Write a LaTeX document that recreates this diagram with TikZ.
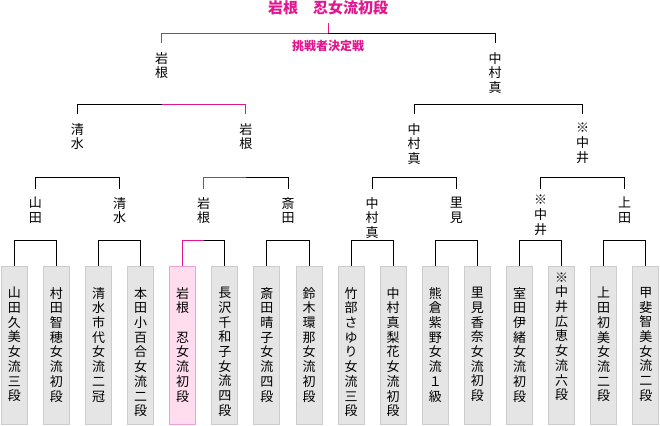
\documentclass[tikz,border=0pt]{standalone}
\usepackage{fontspec}
\newfontfamily\jp{Noto Sans CJK JP}
\definecolor{win}{HTML}{E2168F}
\definecolor{boxfill}{HTML}{E5E5E5}
\definecolor{boxline}{HTML}{CCCCCC}
\definecolor{pinkfill}{HTML}{FFDDEE}
\definecolor{pinkline}{HTML}{F0A0D0}
\begin{document}
\begin{tikzpicture}[x=1pt,y=-1pt,
  conn/.style={draw=black,line width=1pt},
  winconn/.style={draw=win,line width=1pt},
  pbox/.style={draw=boxline,fill=boxfill,line width=1pt,minimum width=26pt,minimum height=158pt,anchor=north,inner sep=0pt},
  wbox/.style={pbox,draw=pinkline,fill=pinkfill},
  vtext/.style={anchor=north,inner sep=0pt,align=center,font=\jp\fontsize{13}{14.7}\selectfont},
  ttl/.style={inner sep=0pt,text=win,font=\jp\bfseries\fontsize{15}{16}\selectfont},
  sttl/.style={inner sep=0pt,text=win,font=\jp\bfseries\fontsize{12}{13}\selectfont}]
\useasboundingbox (0,0) rectangle (660,425);
% title
\node[ttl] (title) at (328,8) {岩根　忍女流初段};
\node[sttl] (sub) at (328,46) {挑戦者決定戦};
% boxes
\node[pbox] (b0) at (14.3,265.5) {};
\node[pbox] (b1) at (56.4,265.5) {};
\node[pbox] (b2) at (98.5,265.5) {};
\node[pbox] (b3) at (140.6,265.5) {};
\node[wbox] (b4) at (182.7,265.5) {};
\node[pbox] (b5) at (224.8,265.5) {};
\node[pbox] (b6) at (266.9,265.5) {};
\node[pbox] (b7) at (309.0,265.5) {};
\node[pbox] (b8) at (351.1,265.5) {};
\node[pbox] (b9) at (393.2,265.5) {};
\node[pbox] (b10) at (435.3,265.5) {};
\node[pbox] (b11) at (477.4,265.5) {};
\node[pbox] (b12) at (519.5,265.5) {};
\node[pbox] (b13) at (561.6,265.5) {};
\node[pbox] (b14) at (603.7,265.5) {};
\node[pbox] (b15) at (645.8,265.5) {};
% box texts
\node[vtext] (t0) at (14.3,287) {山\\田\\久\\美\\女\\流\\三\\段};
\node[vtext] (t1) at (56.4,287) {村\\田\\智\\穂\\女\\流\\初\\段};
\node[vtext] (t2) at (98.5,287) {清\\水\\市\\代\\女\\流\\二\\冠};
\node[vtext] (t3) at (140.6,287) {本\\田\\小\\百\\合\\女\\流\\二\\段};
\node[vtext] (t4) at (182.7,287) {岩\\根\\　\\忍\\女\\流\\初\\段};
\node[vtext] (t5) at (224.8,287) {長\\沢\\千\\和\\子\\女\\流\\四\\段};
\node[vtext] (t6) at (266.9,287) {斎\\田\\晴\\子\\女\\流\\四\\段};
\node[vtext] (t7) at (309.0,287) {鈴\\木\\環\\那\\女\\流\\初\\段};
\node[vtext] (t8) at (351.1,287) {竹\\部\\さ\\ゆ\\り\\女\\流\\三\\段};
\node[vtext] (t9) at (393.2,287) {中\\村\\真\\梨\\花\\女\\流\\初\\段};
\node[vtext] (t10) at (435.3,287) {熊\\倉\\紫\\野\\女\\流\\１\\級};
\node[vtext] (t11) at (477.4,287) {里\\見\\香\\奈\\女\\流\\初\\段};
\node[vtext] (t12) at (519.5,287) {室\\田\\伊\\緒\\女\\流\\初\\段};
\node[vtext] (t13) at (561.6,272.3) {※\\中\\井\\広\\恵\\女\\流\\六\\段};
\node[vtext] (t14) at (603.7,287) {上\\田\\初\\美\\女\\流\\二\\段};
\node[vtext] (t15) at (645.8,287) {甲\\斐\\智\\美\\女\\流\\二\\段};
% level 1 winners
\node[vtext] (a0) at (35.3,197) {山\\田};
\node[vtext] (a1) at (119.5,197) {清\\水};
\node[vtext] (a2) at (203.7,197) {岩\\根};
\node[vtext] (a3) at (288.0,197) {斎\\田};
\node[vtext] (a4) at (372.1,197) {中\\村\\真};
\node[vtext] (a5) at (456.3,197) {里\\見};
\node[vtext] (a6) at (540.5,195) {※\\中\\井};
\node[vtext] (a7) at (624.7,197) {上\\田};
% level 2 winners
\node[vtext] (m0) at (77.4,123) {清\\水};
\node[vtext] (m1) at (245.8,123) {岩\\根};
\node[vtext] (m2) at (414.2,123) {中\\村\\真};
\node[vtext] (m3) at (582.6,123) {※\\中\\井};
% level 3 winners
\node[vtext] (s0) at (161.6,52) {岩\\根};
\node[vtext] (s1) at (495,52) {中\\村\\真};
% junctions
\coordinate (j0) at (35.3,240.5);
\coordinate (j1) at (119.5,240.5);
\coordinate (j2) at (203.7,240.5);
\coordinate (j3) at (288.0,240.5);
\coordinate (j4) at (372.1,240.5);
\coordinate (j5) at (456.3,240.5);
\coordinate (j6) at (540.5,240.5);
\coordinate (j7) at (624.7,240.5);
\coordinate (k0) at (77.4,177.5);
\coordinate (k1) at (245.8,177.5);
\coordinate (k2) at (414.2,177.5);
\coordinate (k3) at (582.6,177.5);
\coordinate (q0) at (161.6,104.5);
\coordinate (q1) at (495,104.5);
\coordinate (top) at (328,33.5);
\coordinate (topend) at (328,23);
% level 1 brackets
\draw[conn] (b0.north) |- (j0) -| (b1.north);
\draw[conn] (b2.north) |- (j1) -| (b3.north);
\draw[winconn] (b4.north) |- (j2);
\draw[conn] (j2) -| (b5.north);
\draw[conn] (b6.north) |- (j3) -| (b7.north);
\draw[conn] (b8.north) |- (j4) -| (b9.north);
\draw[conn] (b10.north) |- (j5) -| (b11.north);
\draw[conn] (b12.north) |- (j6) -| (b13.north);
\draw[conn] (b14.north) |- (j7) -| (b15.north);
% level 2 brackets
\draw[conn] ([yshift=8pt]a0.north) |- (k0) -| ([yshift=8pt]a1.north);
\draw[winconn] ([yshift=8pt]a2.north) |- (k1);
\draw[conn] (k1) -| ([yshift=8pt]a3.north);
\draw[conn] ([yshift=8pt]a4.north) |- (k2) -| ([yshift=8pt]a5.north);
\draw[conn] ([yshift=6pt]a6.north) |- (k3) -| ([yshift=8pt]a7.north);
% level 3 brackets
\draw[conn] ([yshift=9pt]m0.north) |- (q0);
\draw[winconn] (q0) -| ([yshift=9pt]m1.north);
\draw[conn] ([yshift=9pt]m2.north) |- (q1) -| ([yshift=9pt]m3.north);
% final bracket
\draw[winconn] ([yshift=9pt]s0.north) |- (top);
\draw[winconn] (topend) -- (top);
\draw[conn] (top) -| ([yshift=9pt]s1.north);
\end{tikzpicture}
\end{document}
